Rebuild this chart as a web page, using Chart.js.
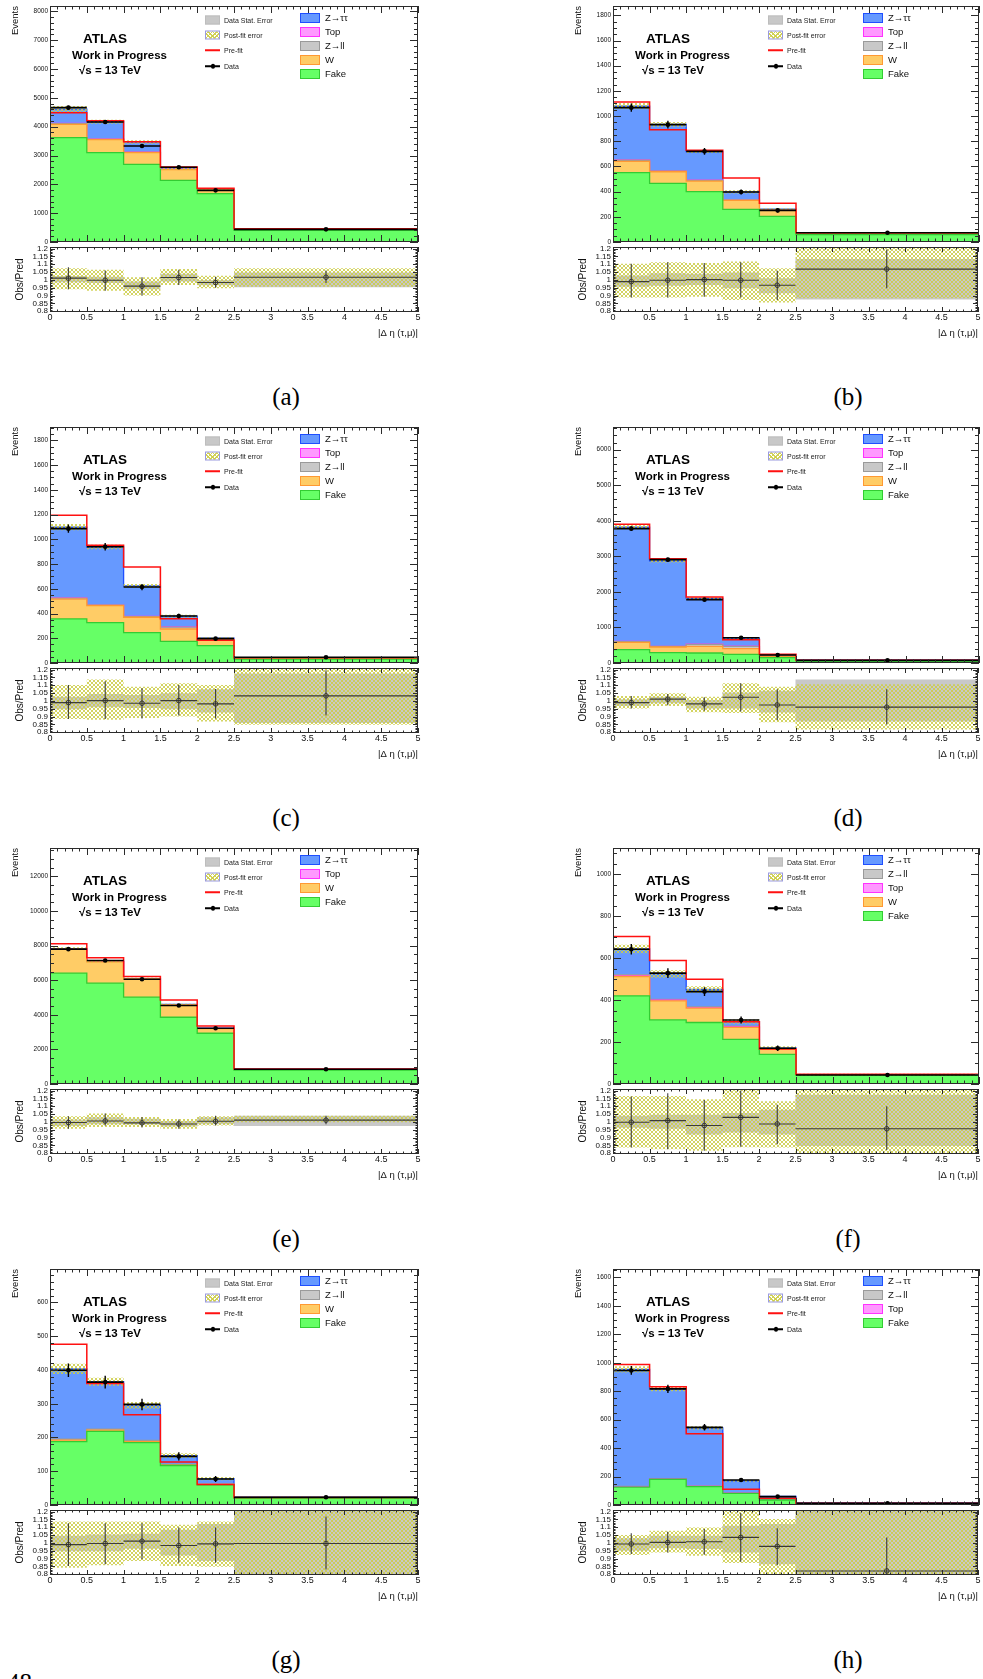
<!DOCTYPE html>
<html>
<head>
<meta charset="utf-8">
<script src="https://cdn.jsdelivr.net/npm/chart.js@4.4.1/dist/chart.umd.min.js"></script>
<style>
  html, body { margin: 0; padding: 0; background: #fff; }
  #page { position: relative; width: 983px; height: 1679px; overflow: hidden; background: #fff;
          font-family: "Liberation Sans", Arial, Helvetica, sans-serif; }
  #page canvas { position: absolute; }
  .t { position: absolute; white-space: nowrap; line-height: 1; color: #111; transform: translateY(-50%); }
  .sw { position: absolute; box-sizing: border-box; transform: translateY(-50%); }
  .cap { position: absolute; font-family: "Liberation Serif", "DejaVu Serif", serif; font-size: 25px;
         line-height: 1; color: #000; transform: translate(-50%, -50%); }
  .hatchbg {
    background-color: #fff;
    background-image: repeating-linear-gradient(45deg, rgba(205,205,70,0.9) 0 1px, transparent 1px 3px),
                      repeating-linear-gradient(-45deg, rgba(205,205,70,0.9) 0 1px, transparent 1px 3px);
  }
</style>
</head>
<body>
<div id="page"></div>
<script>
// ---- binning ----
const edges = [0, 0.5, 1, 1.5, 2, 2.5, 5];
const xTickLabels = ['0', '0.5', '1', '1.5', '2', '2.5', '3', '3.5', '4', '4.5', '5'];
const ratioTickLabels = ['0.8', '0.85', '0.9', '0.95', '1', '1.05', '1.1', '1.15', '1.2'];
const panelNames = ['(a)', '(b)', '(c)', '(d)', '(e)', '(f)', '(g)', '(h)'];

// ---- main axis ranges ----
const yMax = [8185, 1874, 1908, 6637, 13640, 1124, 699, 1659];
const yStep = [1000, 200, 200, 1000, 2000, 200, 100, 200];
const yMinorDiv = [5, 4, 4, 5, 4, 4, 5, 4];

// ---- background components, events per bin (null = not in this region) ----
const fake = [
  [3620, 3100, 2690, 2140, 1680, 405],
  [551, 466, 400, 259, 204, 58],
  [356, 326, 245, 175, 140, 32],
  [375, 291, 281, 244, 150, 56],
  [6405, 5827, 5016, 3859, 2933, 810],
  [420, 305, 293, 213, 141, 41],
  [188, 218, 185, 117, 60, 20],
  [125, 181, 129, 82, 35, 7]
];
const wjets = [
  [460, 450, 410, 370, 130, 20],
  [90, 92, 84, 72, 47, 9],
  [160, 138, 125, 100, 47, 8],
  [206, 159, 188, 159, 37, 12],
  [1380, 1230, 1060, 710, 270, 25],
  [92, 91, 68, 57, 24, 3],
  [4, 4, 3, 1, 1, 0],
  null
];
const zll = [
  [25, 20, 15, 10, 5, 3],
  [8, 6, 5, 4, 2, 1],
  [8, 6, 5, 15, 3, 1],
  [20, 15, 56, 66, 10, 3],
  null,
  [5, 4, 4, 3, 2, 0],
  [3, 3, 3, 2, 1, 1],
  [4, 3, 3, 2, 1, 1]
];
const topq = [
  [10, 8, 6, 4, 2, 1],
  [3, 2, 2, 1, 1, 0],
  [3, 2, 2, 1, 1, 0],
  [5, 4, 4, 3, 2, 1],
  [10, 10, 8, 6, 4, 2],
  [3, 3, 2, 2, 1, 0],
  null,
  [2, 2, 2, 1, 1, 0]
];
const ztautau = [
  [493, 592, 347, 28, 6, 3],
  [427, 368, 227, 62, 6, 1],
  [571, 466, 246, 88, 9, 3],
  [3214, 2405, 1287, 224, 32, 6],
  [31, 29, 10, 19, 2, 3],
  [123, 121, 83, 22, 4, 1],
  [208, 140, 104, 26, 16, 2],
  [822, 628, 408, 85, 23, 6]
];
const prefit = [
  [4486, 4208, 3480, 2601, 1861, 462],
  [1112, 892, 728, 508, 307, 74],
  [1194, 951, 776, 358, 183, 43],
  [3900, 2934, 1856, 656, 244, 75],
  [8103, 7293, 6213, 4862, 3357, 868],
  [703, 588, 499, 297, 167, 46],
  [476, 360, 267, 127, 61, 22],
  [988, 831, 501, 111, 47, 12]
];
const postFitErr = [
  [110, 70, 60, 50, 40, 12],
  [25, 18, 12, 12, 8, 4],
  [25, 18, 15, 12, 8, 3],
  [60, 45, 30, 15, 6, 3],
  [80, 60, 50, 40, 30, 10],
  [20, 18, 16, 10, 8, 4],
  [15, 12, 10, 7, 5, 2],
  [22, 15, 12, 6, 4, 2]
];

// ---- observed data ----
const observed = [
  [4659, 4162, 3329, 2590, 1792, 439],
  [1067, 932, 720, 397, 251, 74],
  [1086, 940, 614, 380, 197, 46],
  [3778, 2906, 1781, 712, 225, 75],
  [7795, 7139, 6058, 4534, 3222, 849],
  [642, 528, 440, 305, 170, 43],
  [399, 364, 298, 144, 77, 23],
  [946, 816, 546, 176, 59, 12]
];
const observedErr = [
  [68, 65, 58, 51, 42, 21],
  [33, 31, 27, 20, 16, 9],
  [33, 31, 25, 19, 14, 7],
  [61, 54, 42, 27, 15, 9],
  [88, 84, 78, 67, 57, 29],
  [25, 23, 21, 17, 13, 7],
  [20, 19, 17, 12, 9, 5],
  [31, 29, 23, 13, 8, 3]
];

// ---- Obs/Pred ----
const ratio = [
  [1.011, 0.998, 0.96, 1.015, 0.983, 1.017],
  [0.989, 0.998, 1.002, 0.998, 0.966, 1.069],
  [0.989, 1.002, 0.985, 1.002, 0.981, 1.032],
  [0.989, 1.011, 0.981, 1.023, 0.974, 0.96],
  [0.996, 1.006, 0.994, 0.987, 1.004, 1.011],
  [0.998, 1.008, 0.977, 1.029, 0.987, 0.956],
  [0.989, 0.996, 1.011, 0.983, 0.994, 0.996],
  [0.993, 1.003, 1.007, 1.035, 0.978, 0.821]
];
const ratioErrLo = [
  [0.94, 0.93, 0.9, 0.968, 0.95, 0.98],
  [0.888, 0.888, 0.892, 0.888, 0.871, 0.946],
  [0.884, 0.884, 0.888, 0.907, 0.888, 0.907],
  [0.952, 0.972, 0.937, 0.933, 0.876, 0.85],
  [0.956, 0.977, 0.964, 0.956, 0.977, 0.985],
  [0.836, 0.825, 0.815, 0.842, 0.858, 0.82],
  [0.853, 0.863, 0.895, 0.874, 0.874, 0.83],
  [0.929, 0.939, 0.925, 0.88, 0.858, 0.78]
];
const ratioErrHi = [
  [1.08, 1.06, 1.017, 1.065, 1.02, 1.06],
  [1.103, 1.112, 1.108, 1.112, 1.058, 1.194],
  [1.101, 1.126, 1.08, 1.101, 1.076, 1.196],
  [1.032, 1.044, 1.023, 1.112, 1.074, 1.074],
  [1.036, 1.053, 1.032, 1.015, 1.04, 1.04],
  [1.162, 1.183, 1.14, 1.2, 1.11, 1.1],
  [1.126, 1.126, 1.126, 1.099, 1.099, 1.168],
  [1.061, 1.071, 1.089, 1.191, 1.094, 1.035]
];
const postBandLo = [
  [0.94, 0.93, 0.9, 0.968, 0.946, 0.957],
  [0.888, 0.888, 0.892, 0.871, 0.856, 0.882],
  [0.884, 0.88, 0.891, 0.901, 0.869, 0.848],
  [0.952, 0.968, 0.928, 0.922, 0.863, 0.817],
  [0.956, 0.968, 0.968, 0.956, 0.977, 0.998],
  [0.836, 0.825, 0.815, 0.838, 0.836, 0.78],
  [0.842, 0.857, 0.884, 0.853, 0.848, 0.78],
  [0.922, 0.939, 0.918, 0.871, 0.78, 0.78]
];
const postBandHi = [
  [1.075, 1.065, 1.017, 1.069, 1.026, 1.075],
  [1.103, 1.112, 1.108, 1.118, 1.075, 1.22],
  [1.101, 1.137, 1.091, 1.112, 1.101, 1.22],
  [1.032, 1.048, 1.027, 1.112, 1.091, 1.107],
  [1.036, 1.053, 1.032, 1.019, 1.036, 1.04],
  [1.166, 1.166, 1.145, 1.22, 1.131, 1.22],
  [1.137, 1.137, 1.137, 1.116, 1.137, 1.22],
  [1.05, 1.078, 1.099, 1.22, 1.153, 1.22]
];
const statBandLo = [
  [0.985, 0.98, 0.94, 0.99, 0.965, 0.953],
  [0.957, 0.963, 0.968, 0.946, 0.914, 0.875],
  [0.947, 0.96, 0.954, 0.947, 0.926, 0.859],
  [0.968, 0.985, 0.952, 0.952, 0.926, 0.869],
  [0.973, 0.985, 0.983, 0.97, 0.985, 0.973],
  [0.962, 0.956, 0.92, 0.933, 0.92, 0.846],
  [0.947, 0.947, 0.962, 0.92, 0.884, 0.78],
  [0.95, 0.965, 0.961, 0.939, 0.864, 0.78]
];
const statBandHi = [
  [1.025, 1.02, 0.99, 1.04, 1.0, 1.047],
  [1.028, 1.043, 1.039, 1.047, 1.011, 1.133],
  [1.027, 1.044, 1.038, 1.048, 1.074, 1.175],
  [1.011, 1.027, 1.006, 1.053, 1.065, 1.137],
  [1.015, 1.03, 1.02, 1.005, 1.03, 1.04],
  [1.04, 1.046, 1.046, 1.057, 1.078, 1.173],
  [1.046, 1.053, 1.059, 1.084, 1.12, 1.22],
  [1.029, 1.046, 1.046, 1.11, 1.121, 1.22]
];

// legend entries, top to bottom (stack order is the reverse)
const legendKeys = [
  ['ztt', 'top', 'zll', 'w', 'fake'],
  ['ztt', 'top', 'zll', 'w', 'fake'],
  ['ztt', 'top', 'zll', 'w', 'fake'],
  ['ztt', 'top', 'zll', 'w', 'fake'],
  ['ztt', 'top', 'w', 'fake'],
  ['ztt', 'zll', 'top', 'w', 'fake'],
  ['ztt', 'zll', 'w', 'fake'],
  ['ztt', 'zll', 'top', 'fake']
];

// ---- styling ----
const FONT = '"Liberation Sans", Arial, Helvetica, sans-serif';
Chart.defaults.font.family = FONT;
Chart.defaults.color = '#111';

const procs = {
  ztt:  { label: 'Z\u2192\u03c4\u03c4', fill: '#6699ff', line: '#1f4fff', vals: ztautau },
  top:  { label: 'Top',  fill: '#ff99ff', line: '#ff33ff', vals: topq },
  zll:  { label: 'Z\u2192ll', fill: '#c8c8c8', line: '#9a9a9a', vals: zll },
  w:    { label: 'W',    fill: '#ffcc66', line: '#ff9933', vals: wjets },
  fake: { label: 'Fake', fill: '#66ff66', line: '#33cc33', vals: fake }
};

const hatch = (() => {
  const c = document.createElement('canvas');
  c.width = 4; c.height = 4;
  const g = c.getContext('2d');
  g.fillStyle = 'rgba(205,205,70,0.85)';
  for (let i = 0; i < 4; i++) { g.fillRect(i, i, 1, 1); g.fillRect(3 - i, i, 1, 1); }
  return g.createPattern(c, 'repeat');
})();

// ROOT-like frame with inward ticks on all four sides
const rootFrame = {
  id: 'rootFrame',
  afterDatasetsDraw(chart, args, o) {
    const { ctx, chartArea: a } = chart;
    const xs = chart.scales.x, ys = chart.scales.y;
    ctx.save();
    ctx.strokeStyle = '#2b2b2b';
    ctx.lineWidth = 1;
    ctx.beginPath();
    const yMinor = o.yStep / o.yDiv;
    const k0 = Math.ceil(ys.min / yMinor - 1e-6), k1 = Math.floor(ys.max / yMinor + 1e-6);
    for (let k = k0; k <= k1; k++) {
      const v = k * yMinor;
      const major = Math.abs(v / o.yStep - Math.round(v / o.yStep)) < 1e-6;
      const len = major ? o.yLen : o.yLen / 2;
      const py = Math.round(ys.getPixelForValue(v)) + 0.5;
      ctx.moveTo(a.left, py); ctx.lineTo(a.left + len, py);
      ctx.moveTo(a.right, py); ctx.lineTo(a.right - len, py);
    }
    for (let k = 0; k <= 50; k++) {
      const len = (k % 5 === 0) ? o.xLen : o.xLen / 2;
      const px = Math.round(xs.getPixelForValue(k * 0.1)) + 0.5;
      ctx.moveTo(px, a.bottom); ctx.lineTo(px, a.bottom - len);
      ctx.moveTo(px, a.top); ctx.lineTo(px, a.top + len);
    }
    ctx.stroke();
    ctx.strokeRect(Math.round(a.left) + 0.5, Math.round(a.top) + 0.5,
                   Math.round(a.width) - 1, Math.round(a.height) - 1);
    ctx.restore();
  }
};

// ---- point builders ----
function stepPts(vals) {
  const pts = [];
  vals.forEach((v, i) => { pts.push({ x: edges[i], y: v }, { x: edges[i + 1], y: v }); });
  return pts;
}
function hBars(vals) {
  const pts = [];
  vals.forEach((v, i) => { pts.push({ x: edges[i], y: v }, { x: edges[i + 1], y: v }, { x: edges[i + 1], y: null }); });
  return pts;
}
function vBars(lo, hi) {
  const pts = [];
  lo.forEach((l, i) => {
    const c = (edges[i] + edges[i + 1]) / 2;
    pts.push({ x: c, y: l }, { x: c, y: hi[i] }, { x: c, y: null });
  });
  return pts;
}
function centers(vals) {
  return vals.map((v, i) => ({ x: (edges[i] + edges[i + 1]) / 2, y: v }));
}
const lineBase = { pointRadius: 0, tension: 0, borderJoinStyle: 'miter', spanGaps: false };

const page = document.getElementById('page');
function addCanvas(left, top, w, h) {
  const c = document.createElement('canvas');
  c.width = w; c.height = h;
  c.style.left = left + 'px'; c.style.top = top + 'px';
  c.style.width = w + 'px'; c.style.height = h + 'px';
  page.appendChild(c);
  return c;
}
function addText(txt, x, y, css) {
  const d = document.createElement('div');
  d.className = 't';
  d.textContent = txt;
  d.style.left = x + 'px'; d.style.top = y + 'px';
  Object.assign(d.style, css || {});
  page.appendChild(d);
  return d;
}
function addBox(x, y, w, h, css, cls) {
  const d = document.createElement('div');
  d.className = 'sw' + (cls ? ' ' + cls : '');
  d.style.left = x + 'px'; d.style.top = y + 'px';
  d.style.width = w + 'px'; d.style.height = h + 'px';
  Object.assign(d.style, css || {});
  page.appendChild(d);
  return d;
}

const rowTop = [0, 421, 842, 1263];

function drawPanel(p) {
  const col = p % 2, row = Math.floor(p / 2);
  const R = rowTop[row];
  const canvasLeft = col ? 560 : 0;
  const yw = col ? 53 : 50;          // y-axis band width
  const L = canvasLeft + yw;          // frame left
  const T = R + 6;                    // frame top
  const cw = 423;
  const padRight = col ? 4 : 5;

  // ---- stacked backgrounds ----
  const stackKeys = legendKeys[p].slice().reverse();
  const cum = [0, 0, 0, 0, 0, 0];
  const datasets = [];
  stackKeys.forEach((k, idx) => {
    const v = procs[k].vals[p];
    if (!v) return;
    v.forEach((x, i) => { cum[i] += x; });
    datasets.push(Object.assign({}, lineBase, {
      data: stepPts(cum.slice()), fill: 'origin',
      backgroundColor: procs[k].fill, borderColor: procs[k].line, borderWidth: 1.3,
      order: 10 + idx
    }));
  });
  const total = cum.slice();
  // post-fit uncertainty band around the total
  datasets.push(Object.assign({}, lineBase, {
    data: stepPts(total.map((t, i) => t + postFitErr[p][i])), fill: '+1',
    backgroundColor: hatch, borderWidth: 0, order: 5
  }));
  datasets.push(Object.assign({}, lineBase, {
    data: stepPts(total.map((t, i) => t - postFitErr[p][i])), fill: false,
    borderWidth: 0, order: 5
  }));
  // pre-fit prediction
  datasets.push(Object.assign({}, lineBase, {
    data: stepPts(prefit[p]), fill: false, borderColor: '#ff1010', borderWidth: 1.5, order: 3
  }));
  // data
  const obs = observed[p], oe = observedErr[p];
  datasets.push(Object.assign({}, lineBase, {
    data: hBars(obs), fill: false, borderColor: '#000', borderWidth: 1.6, order: 1
  }));
  datasets.push(Object.assign({}, lineBase, {
    data: vBars(obs.map((v, i) => v - oe[i]), obs.map((v, i) => v + oe[i])),
    fill: false, borderColor: '#000', borderWidth: 1.4, order: 1
  }));
  datasets.push({
    data: centers(obs), showLine: false, pointRadius: 2.3, pointStyle: 'circle',
    pointBackgroundColor: '#000', pointBorderColor: '#000', pointBorderWidth: 0, order: 0
  });

  const mainCanvas = addCanvas(canvasLeft, R, cw, 250);
  new Chart(mainCanvas, {
    type: 'line',
    data: { datasets },
    plugins: [rootFrame],
    options: {
      responsive: false, animation: false, devicePixelRatio: 1, events: [],
      layout: { padding: { left: 0, right: padRight, top: 6, bottom: 8 } },
      plugins: {
        legend: { display: false }, tooltip: { enabled: false },
        rootFrame: { yStep: yStep[p], yDiv: yMinorDiv[p], yLen: 8, xLen: 7 }
      },
      scales: {
        x: { type: 'linear', min: 0, max: 5, display: false },
        y: {
          type: 'linear', min: 0, max: yMax[p],
          afterFit(s) { s.width = yw; },
          afterBuildTicks(s) {
            const t = [];
            for (let k = 0; k * yStep[p] <= yMax[p]; k++) t.push({ value: k * yStep[p] });
            s.ticks = t;
          },
          grid: { display: false, drawTicks: false }, border: { display: false },
          ticks: { padding: 2, color: '#111', autoSkip: false,
                   font: { family: FONT, size: 6.5 },
                   callback: (v) => String(Math.round(v)) },
          title: { display: true, text: 'Events', align: 'end', color: '#111',
                   font: { family: FONT, size: 9.5 }, padding: { top: yw - 35 - 5.7, bottom: 0 } }
        }
      }
    }
  });

  // ---- ratio panel ----
  const rds = [];
  rds.push(Object.assign({}, lineBase, {
    data: stepPts(statBandHi[p]), fill: '+1', backgroundColor: '#c8c8c8', borderWidth: 0, order: 8
  }));
  rds.push(Object.assign({}, lineBase, {
    data: stepPts(statBandLo[p]), fill: false, borderWidth: 0, order: 8
  }));
  rds.push(Object.assign({}, lineBase, {
    data: stepPts(postBandHi[p]), fill: '+1', backgroundColor: hatch, borderWidth: 0, order: 6
  }));
  rds.push(Object.assign({}, lineBase, {
    data: stepPts(postBandLo[p]), fill: false, borderWidth: 0, order: 6
  }));
  rds.push(Object.assign({}, lineBase, {
    data: hBars(ratio[p]), fill: false, borderColor: 'rgba(45,45,45,0.9)', borderWidth: 1.1, order: 1
  }));
  rds.push(Object.assign({}, lineBase, {
    data: vBars(ratioErrLo[p], ratioErrHi[p]), fill: false,
    borderColor: 'rgba(45,45,45,0.9)', borderWidth: 1.1, order: 1
  }));
  rds.push({
    data: centers(ratio[p]), showLine: false, pointRadius: 2.3, pointStyle: 'circle',
    pointBackgroundColor: 'rgba(0,0,0,0)', pointBorderColor: 'rgba(45,45,45,0.9)',
    pointBorderWidth: 1, order: 0
  });

  const ratioCanvas = addCanvas(canvasLeft, R + 238, cw, 107);
  new Chart(ratioCanvas, {
    type: 'line',
    data: { datasets: rds },
    plugins: [rootFrame],
    options: {
      responsive: false, animation: false, devicePixelRatio: 1, events: [],
      layout: { padding: { left: 0, right: padRight, top: 9, bottom: 0 } },
      plugins: {
        legend: { display: false }, tooltip: { enabled: false },
        rootFrame: { yStep: 0.05, yDiv: 5, yLen: 5, xLen: 5 }
      },
      scales: {
        x: {
          type: 'linear', min: 0, max: 5,
          afterFit(s) { s.height = 33; },
          afterBuildTicks(s) { s.ticks = xTickLabels.map((l) => ({ value: Number(l) })); },
          grid: { display: false, drawTicks: false }, border: { display: false },
          ticks: { padding: 0, color: '#111', maxRotation: 0, autoSkip: false,
                   font: { family: FONT, size: 9 },
                   callback: (v, i) => xTickLabels[i] },
          title: { display: true, text: '|\u0394 \u03b7 (\u03c4,\u03bc)|', align: 'end', color: '#111',
                   font: { family: FONT, size: 9.5 }, padding: { top: 0, bottom: 6.3 } }
        },
        y: {
          type: 'linear', min: 0.795, max: 1.21,
          afterFit(s) { s.width = yw; },
          afterBuildTicks(s) { s.ticks = ratioTickLabels.map((l) => ({ value: Number(l) })); },
          grid: { display: false, drawTicks: false }, border: { display: false },
          ticks: { padding: 2, color: '#111', autoSkip: false,
                   font: { family: FONT, size: 8 },
                   callback: (v, i) => ratioTickLabels[i] },
          title: { display: true, text: 'Obs/Pred', color: '#111',
                   font: { family: FONT, size: 10 }, padding: { top: yw - 30 - 6, bottom: 0 } }
        }
      }
    }
  });

  // ---- labels ----
  addText('ATLAS', L + 33, T + 33, { fontWeight: 'bold', fontSize: '13.5px', color: '#000' });
  addText('Work in Progress', L + 22, T + 49.5, { fontWeight: 'bold', fontSize: '11.5px', color: '#000' });
  addText('\u221as = 13 TeV', L + 29, T + 64.5, { fontWeight: 'bold', fontSize: '11.5px', color: '#000' });

  // left legend column
  const ly = [T + 14, T + 29, T + 44, T + 60];
  addBox(L + 155, ly[0], 15, 9, { background: '#c8c8c8', border: '1px solid #bdbdbd' });
  addBox(L + 155, ly[1], 15, 9, { border: '1px solid #9a9ae0' }, 'hatchbg');
  addBox(L + 155, ly[2], 15, 1.5, { background: '#ff1010' });
  addBox(L + 155, ly[3], 15, 1.5, { background: '#000' });
  addBox(L + 160.5, ly[3], 4.5, 4.5, { background: '#000', borderRadius: '50%' });
  const lcss = { fontSize: '7px', color: '#222' };
  addText('Data Stat. Error', L + 174, ly[0], lcss);
  addText('Post-fit error', L + 174, ly[1], lcss);
  addText('Pre-fit', L + 174, ly[2], lcss);
  addText('Data', L + 174, ly[3], lcss);

  // right legend column
  legendKeys[p].forEach((k, i) => {
    const y = T + 12.3 + 13.8 * i;
    addBox(L + 250, y, 20, 10, { background: procs[k].fill, border: '1.5px solid ' + procs[k].line });
    addText(procs[k].label, L + 275, y, { fontSize: '9.5px', color: '#111' });
  });

  // sub-figure caption
  const cap = document.createElement('div');
  cap.className = 'cap';
  cap.textContent = panelNames[p];
  cap.style.left = (col ? 848 : 286) + 'px';
  cap.style.top = (R + 396) + 'px';
  page.appendChild(cap);
}

for (let p = 0; p < 8; p++) drawPanel(p);

// page number
const pn = document.createElement('div');
pn.className = 'cap';
pn.textContent = '48';
pn.style.transform = 'none';
pn.style.left = '7px';
pn.style.top = '1670px';
page.appendChild(pn);
</script>
</body>
</html>
